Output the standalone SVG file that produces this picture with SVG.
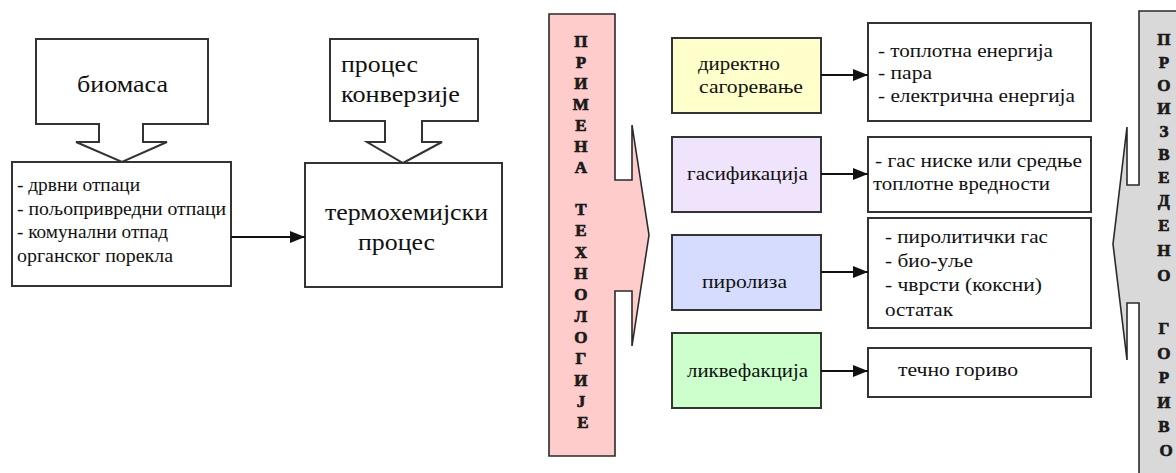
<svg xmlns="http://www.w3.org/2000/svg" width="1176" height="473" viewBox="0 0 1176 473" font-family="'Liberation Serif', 'DejaVu Serif', 'Times New Roman', serif">
  <style>
    .box { fill: #ffffff; stroke: #333333; stroke-width: 2; }
    .blk { stroke: #2a2a2a; stroke-width: 1.6; }
    .big { font-size: 24px; fill: #111111; }
    .mid { font-size: 19px; fill: #111111; }
    .sm { font-size: 18px; fill: #111111; }
    .vert { font-size: 17px; font-weight: bold; fill: #1a1a1a; stroke: #1a1a1a; stroke-width: 0.7; text-anchor: middle; }
    .conn { stroke: #111111; stroke-width: 2; fill: none; }
  </style>
  <defs>
    <marker id="head" markerUnits="userSpaceOnUse" markerWidth="16" markerHeight="14" refX="15" refY="6" orient="auto">
      <path d="M0,0 L15,6 L0,12 Z" fill="#111111"/>
    </marker>
  </defs>
  <rect width="1176" height="473" fill="#ffffff"/>

  <!-- input: biomass (block arrow down) -->
  <g id="biomasa">
    <path class="box" d="M36,39 H208 V124 H143 V142 H167 L122,162 L76,142 H99 V124 H36 Z"/>
    <text class="big" x="77" y="92" textLength="91" lengthAdjust="spacingAndGlyphs">биомаса</text>
  </g>

  <!-- waste types -->
  <g id="otpaci">
    <rect class="box" x="12" y="162" width="219" height="124"/>
    <text class="mid" x="17" y="191" textLength="123" lengthAdjust="spacingAndGlyphs">- дрвни отпаци</text>
    <text class="mid" x="17" y="215" textLength="209" lengthAdjust="spacingAndGlyphs">- пољопривредни отпаци</text>
    <text class="mid" x="17" y="238" textLength="151" lengthAdjust="spacingAndGlyphs">- комунални отпад</text>
    <text class="mid" x="17" y="262" textLength="156" lengthAdjust="spacingAndGlyphs">органског порекла</text>
  </g>

  <!-- conversion process (block arrow down) -->
  <g id="proces-konverzije">
    <path class="box" d="M330,39 H478 V121 H422 V142 H442 L403,163 L367,142 H385 V121 H330 Z"/>
    <text class="big" x="341" y="72" textLength="77" lengthAdjust="spacingAndGlyphs">процес</text>
    <text class="big" x="341" y="102" textLength="119" lengthAdjust="spacingAndGlyphs">конверзије</text>
  </g>

  <!-- thermochemical process -->
  <g id="termohemijski">
    <rect class="box" x="305" y="163" width="197" height="124"/>
    <text class="big" x="325" y="220" textLength="163" lengthAdjust="spacingAndGlyphs">термохемијски</text>
    <text class="big" x="358" y="250" textLength="77" lengthAdjust="spacingAndGlyphs">процес</text>
  </g>

  <!-- technologies banner (pink block arrow right) -->
  <g id="primena-tehnologije">
    <path class="blk" fill="#ffcccc" d="M549,14 H615 V180 H632 V125 L649,235 L632,346 V291 H615 V456 H549 Z"/>
    <text class="vert">
      <tspan x="583" y="47">П</tspan>
      <tspan x="583" y="68">Р</tspan>
      <tspan x="583" y="89">И</tspan>
      <tspan x="583" y="110">М</tspan>
      <tspan x="583" y="131">Е</tspan>
      <tspan x="583" y="152">Н</tspan>
      <tspan x="583" y="173">А</tspan>
      <tspan x="583" y="215">Т</tspan>
      <tspan x="583" y="236">Е</tspan>
      <tspan x="583" y="258">Х</tspan>
      <tspan x="583" y="279">Н</tspan>
      <tspan x="583" y="300">О</tspan>
      <tspan x="583" y="322">Л</tspan>
      <tspan x="583" y="343">О</tspan>
      <tspan x="583" y="364">Г</tspan>
      <tspan x="583" y="386">И</tspan>
      <tspan x="583" y="407">Ј</tspan>
      <tspan x="583" y="428">Е</tspan>
    </text>
  </g>

  <!-- technologies -->
  <g id="direktno-sagorevanje">
    <rect class="box" style="fill:#ffffcc" x="672" y="38" width="149" height="75"/>
    <text class="mid" x="698" y="70" textLength="82" lengthAdjust="spacingAndGlyphs">директно</text>
    <text class="mid" x="699" y="93" textLength="104" lengthAdjust="spacingAndGlyphs">сагоревање</text>
  </g>
  <g id="gasifikacija">
    <rect class="box" style="fill:#f0e4fc" x="672" y="137" width="149" height="75"/>
    <text class="mid" x="687" y="180" textLength="121" lengthAdjust="spacingAndGlyphs">гасификација</text>
  </g>
  <g id="piroliza">
    <rect class="box" style="fill:#d6dcfe" x="672" y="235" width="149" height="75"/>
    <text class="mid" x="702" y="288" textLength="85" lengthAdjust="spacingAndGlyphs">пиролиза</text>
  </g>
  <g id="likvefakcija">
    <rect class="box" style="fill:#ccffcc" x="672" y="333" width="149" height="75"/>
    <text class="mid" x="687" y="377" textLength="121" lengthAdjust="spacingAndGlyphs">ликвефакција</text>
  </g>

  <!-- products -->
  <g id="proizvodi-sagorevanja">
    <rect class="box" x="868" y="23" width="223" height="98"/>
    <text class="sm" x="878" y="57" textLength="175" lengthAdjust="spacingAndGlyphs">- топлотна енергија</text>
    <text class="sm" x="878" y="79" textLength="54" lengthAdjust="spacingAndGlyphs">- пара</text>
    <text class="sm" x="878" y="102" textLength="197" lengthAdjust="spacingAndGlyphs">- електрична енергија</text>
  </g>
  <g id="proizvodi-gasifikacije">
    <rect class="box" x="868" y="137" width="223" height="75"/>
    <text class="sm" x="875" y="167" textLength="207" lengthAdjust="spacingAndGlyphs">- гас ниске или средње</text>
    <text class="sm" x="873" y="190" textLength="177" lengthAdjust="spacingAndGlyphs">топлотне вредности</text>
  </g>
  <g id="proizvodi-pirolize">
    <rect class="box" x="868" y="218" width="223" height="110"/>
    <text class="sm" x="885" y="243" textLength="163" lengthAdjust="spacingAndGlyphs">- пиролитички гас</text>
    <text class="sm" x="885" y="267" textLength="88" lengthAdjust="spacingAndGlyphs">- био-уље</text>
    <text class="sm" x="885" y="291" textLength="157" lengthAdjust="spacingAndGlyphs">- чврсти (коксни)</text>
    <text class="sm" x="885" y="316" textLength="68" lengthAdjust="spacingAndGlyphs">остатак</text>
  </g>
  <g id="proizvodi-likvefakcije">
    <rect class="box" x="868" y="348" width="223" height="49"/>
    <text class="sm" x="898" y="376" textLength="120" lengthAdjust="spacingAndGlyphs">течно гориво</text>
  </g>

  <!-- produced fuel banner (grey block arrow left) -->
  <g id="proizvedeno-gorivo">
    <path class="blk" fill="#d9d9d9" d="M1180,11 H1139 V185 H1127 V127 L1113,244 L1127,360 V303 H1139 V480 H1180 Z"/>
    <text class="vert">
      <tspan x="1166" y="45">П</tspan>
      <tspan x="1166" y="68">Р</tspan>
      <tspan x="1166" y="91">О</tspan>
      <tspan x="1166" y="114">И</tspan>
      <tspan x="1166" y="137">З</tspan>
      <tspan x="1166" y="160">В</tspan>
      <tspan x="1166" y="183">Е</tspan>
      <tspan x="1166" y="206">Д</tspan>
      <tspan x="1166" y="231">Е</tspan>
      <tspan x="1166" y="256">Н</tspan>
      <tspan x="1166" y="281">О</tspan>
      <tspan x="1166" y="334">Г</tspan>
      <tspan x="1166" y="359">О</tspan>
      <tspan x="1166" y="383">Р</tspan>
      <tspan x="1166" y="408">И</tspan>
      <tspan x="1166" y="432">В</tspan>
      <tspan x="1166" y="456">О</tspan>
    </text>
  </g>

  <!-- connectors -->
  <g id="connectors">
    <line class="conn" x1="231" y1="237" x2="305" y2="237" marker-end="url(#head)"/>
    <line class="conn" x1="821" y1="75" x2="868" y2="75" marker-end="url(#head)"/>
    <line class="conn" x1="821" y1="174" x2="868" y2="174" marker-end="url(#head)"/>
    <line class="conn" x1="821" y1="272" x2="868" y2="272" marker-end="url(#head)"/>
    <line class="conn" x1="821" y1="371" x2="868" y2="371" marker-end="url(#head)"/>
  </g>
</svg>
